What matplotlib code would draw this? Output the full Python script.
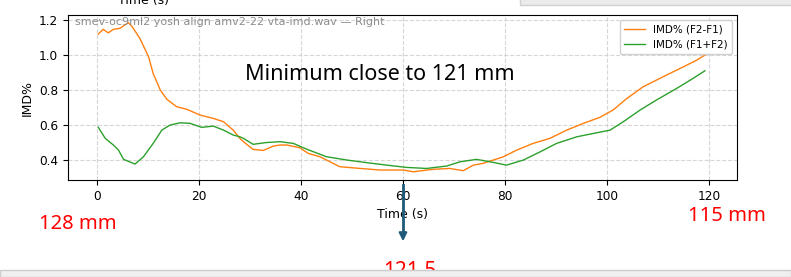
import matplotlib.pyplot as plt
from matplotlib.patches import Rectangle

t_f2f1 = [0.25, 1.2, 2.2, 3.2, 4.5, 6.1, 6.8, 8.4, 10.1, 11.0, 12.4, 13.7, 15.6,
          17.6, 20.2, 22.8, 24.8, 26.7, 28.0, 28.7, 30.6, 32.6, 34.6, 35.9, 37.2,
          39.8, 41.4, 43.7, 47.6, 51.6, 55.5, 60.1, 62.0, 65.9, 69.2, 71.8, 73.8,
          75.7, 79.7, 82.3, 85.5, 88.8, 92.1, 95.4, 98.6, 101.2, 103.9, 107.1,
          111.0, 115.0, 117.6, 119.2]
imd_f2f1 = [1.12, 1.147, 1.127, 1.147, 1.153, 1.185, 1.166, 1.095, 0.99, 0.895,
            0.80, 0.747, 0.705, 0.69, 0.657, 0.638, 0.619, 0.571, 0.524, 0.505,
            0.461, 0.455, 0.48, 0.486, 0.486, 0.47, 0.438, 0.419, 0.362, 0.352,
            0.343, 0.343, 0.333, 0.347, 0.352, 0.339, 0.371, 0.381, 0.419, 0.457,
            0.495, 0.524, 0.571, 0.61, 0.644, 0.686, 0.752, 0.819, 0.876, 0.933,
            0.971, 1.0]

t_f1f2 = [0.25, 1.6, 3.2, 4.2, 5.2, 7.45, 9.1, 11.0, 12.7, 14.3, 16.3, 18.2,
          20.5, 22.8, 24.8, 26.7, 28.0, 28.7, 30.6, 33.2, 35.9, 38.5, 41.2, 45.0,
          49.0, 52.9, 56.8, 60.7, 64.6, 68.6, 71.2, 74.4, 77.1, 80.3, 83.6, 86.9,
          90.1, 94.1, 98.0, 100.6, 103.2, 106.5, 109.7, 113.7, 116.9, 119.2]
imd_f1f2 = [0.587, 0.524, 0.486, 0.457, 0.404, 0.377, 0.419, 0.495, 0.571, 0.60,
            0.613, 0.61, 0.587, 0.594, 0.571, 0.543, 0.533, 0.524, 0.49, 0.50,
            0.505, 0.495, 0.461, 0.419, 0.40, 0.385, 0.371, 0.358, 0.352, 0.366,
            0.39, 0.404, 0.39, 0.371, 0.40, 0.447, 0.495, 0.533, 0.556, 0.571,
            0.619, 0.686, 0.743, 0.81, 0.867, 0.91]

x_ticks = [0, 20, 40, 60, 80, 100, 120]
y_ticks = [0.4, 0.6, 0.8, 1.0, 1.2]

W, H = 791, 277
fig = plt.figure(figsize=(W / 100, H / 100), dpi=100)
ax = fig.add_axes([68 / W, 1 - 180 / H, (737 - 68) / W, (180 - 15) / H])

ax.plot(t_f2f1, imd_f2f1, color="#ff7f0e", lw=1.0, label="IMD% (F2-F1)")
ax.plot(t_f1f2, imd_f1f2, color="#2ca02c", lw=1.0, label="IMD% (F1+F2)")
ax.set_xlim(-5.7, 125.5)
ax.set_ylim(0.286, 1.229)
ax.set_xticks(x_ticks)
ax.set_yticks(y_ticks)
ax.tick_params(labelsize=8.7)
ax.grid(True, linestyle="--", color="#cccccc", lw=0.8, alpha=0.8)
ax.set_xlabel("Time (s)", fontsize=9, labelpad=4)
ax.set_ylabel("IMD%", fontsize=9)
ax.text(0.01, 0.985, "smev-oc9ml2 yosh align amv2-22 vta-imd.wav \u2014 Right",
        transform=ax.transAxes, ha="left", va="top", fontsize=8, color="#8c8c8c")
ax.legend(loc="upper right", fontsize=7.5, framealpha=0.9)

# annotations ajoutées par-dessus la capture
fig.text(143 / W, 1 - 7 / H, "Time (s)", ha="center", va="bottom", fontsize=9)
fig.text(380 / W, 1 - 74 / H, "Minimum close to 121 mm", ha="center", va="center",
         fontsize=15.5, family="Noto Sans")
fig.text(78 / W, 1 - 224 / H, "128 mm", ha="center", va="center", fontsize=14.5,
         color="red", family="Noto Sans")
fig.text(727 / W, 1 - 216 / H, "115 mm", ha="center", va="center", fontsize=14.5,
         color="red", family="Noto Sans")
fig.text(410 / W, 1 - 261 / H, "121.5", ha="center", va="top", fontsize=15,
         color="red", family="Noto Sans")
fig.add_artist(plt.Line2D([403 / W, 403 / W], [1 - 185 / H, 1 - 236 / H],
                          color="#1f5a7a", lw=2))
ax.annotate("", xy=(403 / W, 1 - 244 / H), xytext=(403 / W, 1 - 232 / H),
            xycoords="figure fraction", textcoords="figure fraction",
            arrowprops=dict(arrowstyle="-|>", color="#1f5a7a", lw=1.5,
                            mutation_scale=12))

# barres grises de la fenêtre
fig.add_artist(Rectangle((0, 0), 1, 7 / H, transform=fig.transFigure,
                         facecolor="#f0f0f0", edgecolor="#cccccc", lw=1, zorder=10))
fig.add_artist(Rectangle((520 / W, 1 - 5 / H), 1, 10 / H, transform=fig.transFigure,
                         facecolor="#ebebeb", edgecolor="#d0d0d0", lw=1, zorder=10))

fig.savefig("out.png", dpi=100)
